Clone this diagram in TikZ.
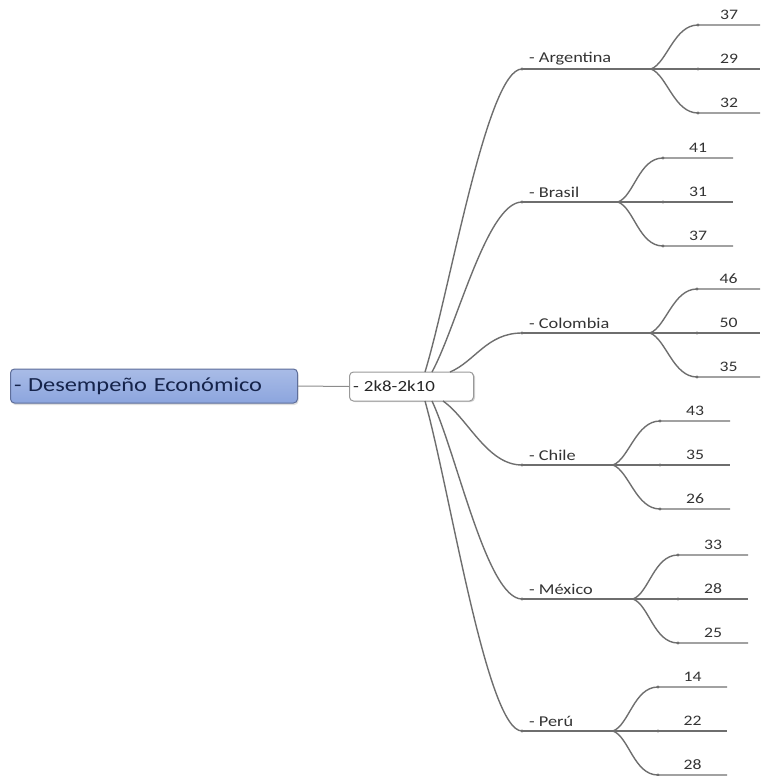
\documentclass[tikz,border=0pt]{standalone}
\usepackage{fontspec}
\usetikzlibrary{calc,shadows}
\newfontfamily\mapfont[FakeStretch=1.22]{Carlito}
\definecolor{linegray}{HTML}{6E6E6E}
\definecolor{rootfill}{HTML}{8CA5DE}
\definecolor{rootedge}{HTML}{5E6E9A}
\definecolor{roottext}{HTML}{15234A}
\definecolor{labeltext}{HTML}{333333}
\begin{document}
\begin{tikzpicture}[x=1pt,y=-1pt,
  branch/.style={draw=linegray,line width=1.4pt},
  knot/.style={circle,fill=linegray,inner sep=0pt,minimum size=3.2pt},
  rootbox/.style={draw=rootedge,line width=1pt,rounded corners=4pt,
    top color=rootfill!75!white,bottom color=rootfill,
    drop shadow={shadow xshift=1pt,shadow yshift=-2pt,opacity=0.25},
    text width=280pt,inner xsep=3.5pt,minimum height=34pt,align=left,
    font=\mapfont\fontsize{20}{22}\selectfont,text=roottext},
  topicbox/.style={draw=gray!80,line width=1pt,rounded corners=4pt,fill=white,
    drop shadow={shadow xshift=1.5pt,shadow yshift=-1pt,opacity=0.35},
    text width=117pt,inner xsep=3.5pt,minimum height=29pt,align=left,
    font=\mapfont\fontsize{15.5}{17}\selectfont,text=black!85},
  country/.style={font=\mapfont\fontsize{15}{17}\selectfont,text=labeltext,
    anchor=south west,inner sep=0pt},
  value/.style={font=\mapfont\fontsize{14.5}{16}\selectfont,text=labeltext,
    anchor=south,inner sep=0pt}]
\useasboundingbox (0,0) rectangle (760,776);

% central topic and period node
\node[rootbox,anchor=west] (root) at (10,386) {- Desempeño Económico};
\node[topicbox,anchor=west] (period) at (349,386.5) {- 2k8-2k10};
\draw[branch,line width=1pt,draw=gray!90] (root.east) -- (period.west);

% countries: name/label/start x/start y/line y/fork x/sub x/end x/values
\foreach \nm/\txt/\sx/\sy/\ly/\fx/\bx/\ex/\va/\vb/\vc in {
  arg/Argentina/425/372/69/651/698/760/37/29/32,
  bra/Brasil/432/372/202/618/663/733/41/31/37,
  col/Colombia/450/372/333/650/697/760/46/50/35,
  chi/Chile/443/401/465/613/660/730/43/35/26,
  mex/México/432/401/599/633/678/748/33/28/25,
  per/Perú/425/401/731/613/658/727/14/22/28}{
  \coordinate (s-\nm) at (\sx,\sy);
  \node[knot] (c-\nm) at (522,\ly) {};
  \coordinate (f-\nm) at (\fx,\ly);
  \node[country] (l-\nm) at (529,\ly-4) {- \txt};
  \pgfmathsetmacro{\dy}{0.27*(\ly-\sy)}
  \draw[branch] (s-\nm) .. controls ($(s-\nm)+(25,\dy)$) and ($(c-\nm)+(-35,0)$) .. (c-\nm.center);
  % three sub-branches with their values
  \node[knot] (t-\nm) at (\bx,\ly-44) {};
  \node[knot] (m-\nm) at (\bx,\ly) {};
  \node[knot] (u-\nm) at (\bx,\ly+44) {};
  \coordinate (te-\nm) at (\ex,\ly-44);
  \coordinate (me-\nm) at (\ex,\ly);
  \coordinate (ue-\nm) at (\ex,\ly+44);
  \draw[branch] (c-\nm.center) -- (f-\nm) -- (me-\nm);
  \draw[branch] (f-\nm) .. controls ($(f-\nm)+(16,-6)$) and ($(t-\nm)+(-24,0)$) .. (t-\nm.center) -- (te-\nm);
  \draw[branch] (f-\nm) .. controls ($(f-\nm)+(16,6)$) and ($(u-\nm)+(-24,0)$) .. (u-\nm.center) -- (ue-\nm);
  \node[value] (vt-\nm) at ($(t-\nm)!0.5!(te-\nm)+(0,-5)$) {\va};
  \node[value] (vm-\nm) at ($(m-\nm)!0.5!(me-\nm)+(0,-5)$) {\vb};
  \node[value] (vu-\nm) at ($(u-\nm)!0.5!(ue-\nm)+(0,-5)$) {\vc};
}
\end{tikzpicture}
\end{document}
